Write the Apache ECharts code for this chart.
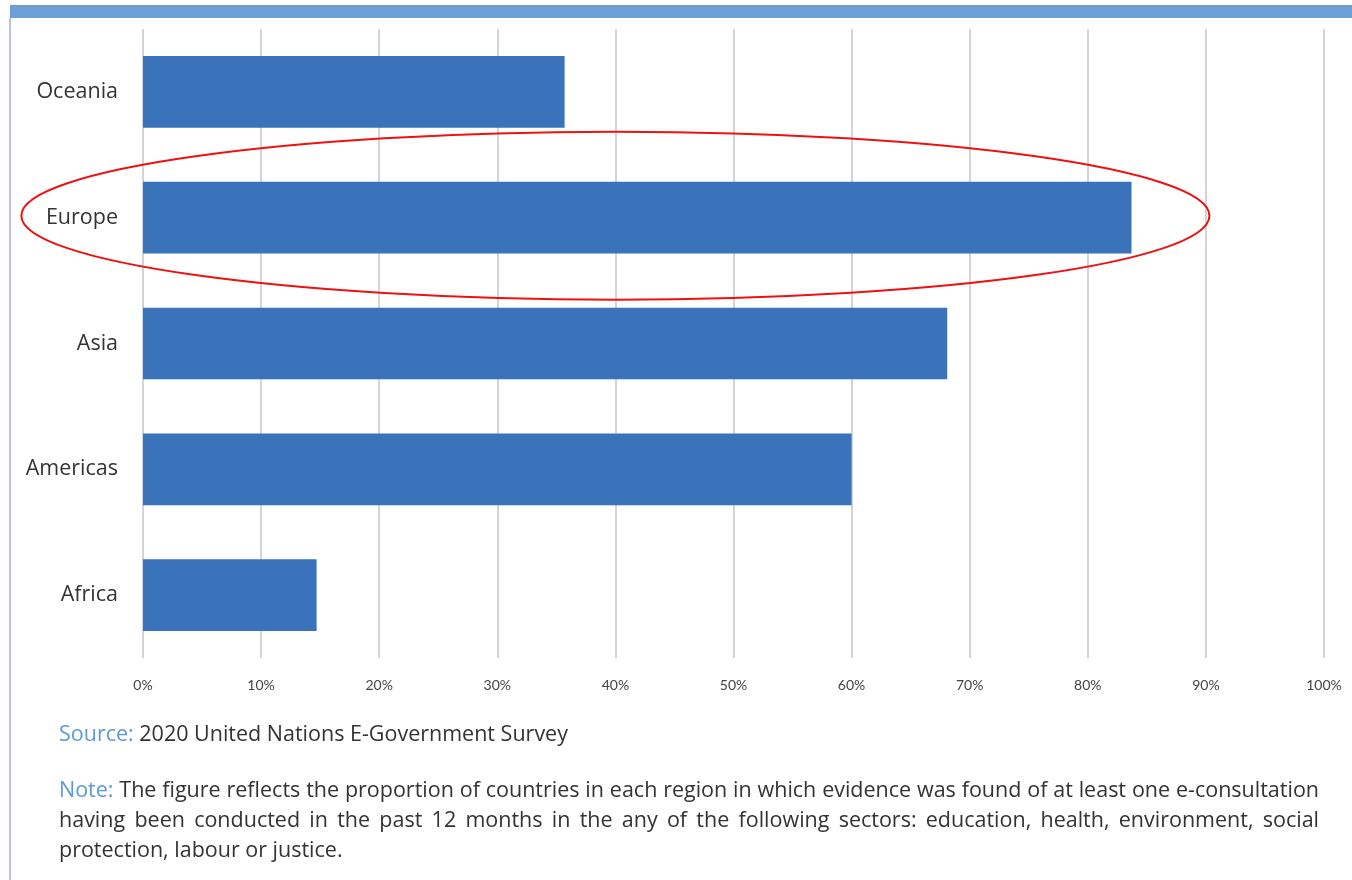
<!DOCTYPE html>
<html>
<head>
<meta charset="utf-8">
<script src="https://cdn.jsdelivr.net/npm/echarts@6/dist/echarts.min.js"></script>
<style>
html,body{margin:0;padding:0;background:#fff;}
#chart{width:1352px;height:880px;}
</style>
</head>
<body>
<div id="chart"></div>
<script>
// ---- data ----
const categories = ['Africa', 'Americas', 'Asia', 'Europe', 'Oceania'];
const values = [14.7, 60.0, 68.1, 83.7, 35.7];
const tickMin = 0, tickMax = 100, tickStep = 10;
const highlighted = 'Europe';
const sourceLabel = 'Source:';
const sourceText = '2020 United Nations E-Government Survey';
const noteLabel = 'Note:';
const noteLines = [
  'The figure reflects the proportion of countries in each region in which evidence was found of at least one e-consultation',
  'having been conducted in the past 12 months in the any of the following sectors: education, health, environment, social',
  'protection, labour or justice.'
];

const FONT = '"Open Sans", "DejaVu Sans", sans-serif';
const chart = echarts.init(document.getElementById('chart'));

chart.setOption({
  animation: false,
  backgroundColor: '#ffffff',
  grid: { left: 143, right: 28, top: 29, bottom: 222, containLabel: false },
  xAxis: {
    type: 'value', min: tickMin, max: tickMax, interval: tickStep,
    axisLine: { show: false }, axisTick: { show: false },
    splitLine: { show: true, lineStyle: { color: '#d4d4d4', width: 2 } },
    axisLabel: { formatter: '{value}%', color: '#444', fontSize: 14, fontFamily: 'Lato, sans-serif', margin: 20 }
  },
  yAxis: {
    type: 'category', data: categories,
    axisLine: { show: false }, axisTick: { show: false },
    axisLabel: { color: '#333', fontSize: 21.5, fontFamily: FONT, margin: 25 }
  },
  series: [{
    type: 'bar', data: values, barCategoryGap: '43%',
    itemStyle: { color: '#3a73b9' }
  }]
});

// ---- decorations, footer ----
function build() {
  const W = 1352;
  const cy = chart.convertToPixel({ yAxisIndex: 0 }, highlighted);
  const x40 = chart.convertToPixel({ xAxisIndex: 0 }, 40);
  const x0 = chart.convertToPixel({ xAxisIndex: 0 }, 0);
  const x10 = chart.convertToPixel({ xAxisIndex: 0 }, 10);
  const step = x10 - x0;
  const graphics = [
    { type: 'rect', shape: { x: 10, y: 5, width: W - 10, height: 13 }, style: { fill: '#6c9fd8' }, z: 10 },
    { type: 'rect', shape: { x: 9, y: 18, width: 2, height: 862 }, style: { fill: '#b7c7dd' }, z: 10 },
    { type: 'ellipse', shape: { cx: x40, cy: cy - 2, rx: step * 5.03, ry: 84 },
      style: { fill: 'none', stroke: '#ee1111', lineWidth: 2 }, z: 20 }
  ];
  const ctx = document.createElement('canvas').getContext('2d');
  const fs = 21.5;
  ctx.font = fs + 'px ' + FONT;
  const left = 59, right = 1319;
  const blue = '#5b9bd5', dark = '#333333';
  // source line
  const sw = ctx.measureText(sourceLabel + ' ').width;
  graphics.push({ type: 'text', x: left, y: 735, style: { text: sourceLabel, fill: blue, font: fs + 'px ' + FONT, textVerticalAlign: 'middle' }, z: 10 });
  graphics.push({ type: 'text', x: left + sw, y: 735, style: { text: sourceText, fill: dark, font: fs + 'px ' + FONT, textVerticalAlign: 'middle' }, z: 10 });
  // note lines, justified
  const lineY = [791, 821, 851];
  noteLines.forEach((line, i) => {
    let words = line.split(' ').map(w => ({ t: w, c: dark }));
    if (i === 0) words.unshift({ t: noteLabel, c: blue });
    const widths = words.map(w => ctx.measureText(w.t).width);
    const total = widths.reduce((a, b) => a + b, 0);
    const justify = i < noteLines.length - 1;
    const gap = justify ? (right - left - total) / (words.length - 1) : ctx.measureText(' ').width;
    let x = left;
    words.forEach((w, k) => {
      graphics.push({ type: 'text', x: x, y: lineY[i], style: { text: w.t, fill: w.c, font: fs + 'px ' + FONT, textVerticalAlign: 'middle' }, z: 10 });
      x += widths[k] + gap;
    });
  });
  chart.setOption({ graphic: graphics });
}
build();
</script>
</body>
</html>
